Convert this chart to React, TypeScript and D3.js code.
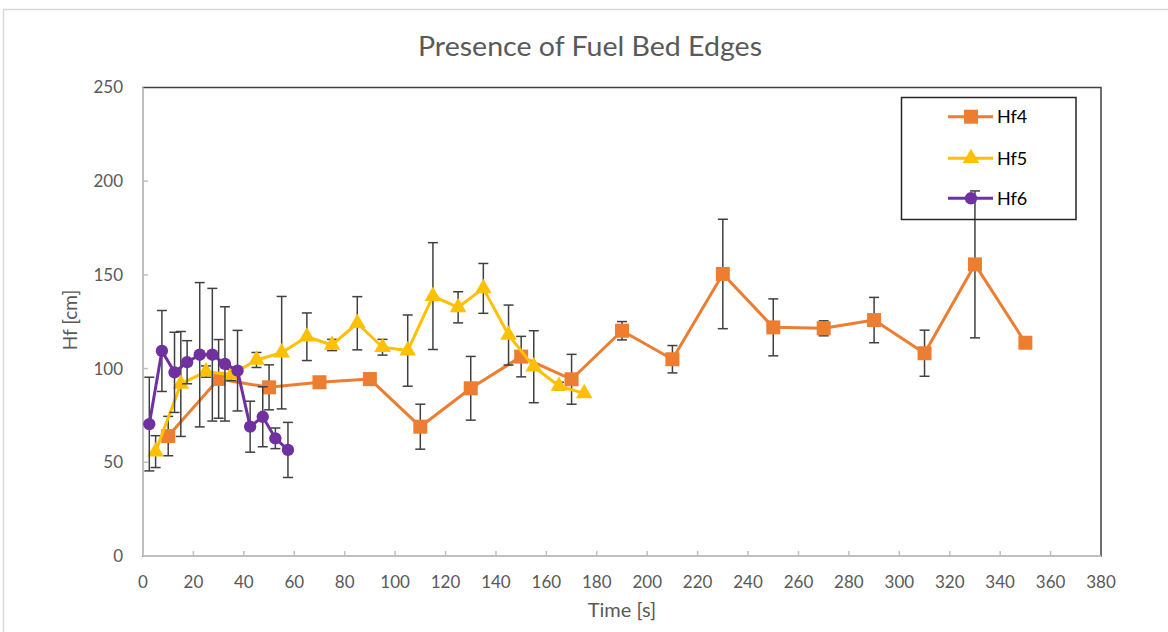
import React from "react";
import * as d3 from "d3";

// Hf4 – orange squares
const hf4Time = [10, 30, 50, 70, 90, 110, 130, 150, 170, 190, 210, 230, 250, 270, 290, 310, 330, 350];
const hf4Value = [64, 94.5, 90, 92.7, 94.4, 69, 89.5, 106.4, 94.3, 120.2, 105, 150.5, 122, 121.5, 125.9, 108.2, 155.6, 113.8];
const hf4Err = [10.5, 21, 12, 3, 3, 12, 17, 10.8, 13.3, 4.9, 7.3, 29.2, 15.2, 4, 12.1, 12.3, 39.2, 0];

// Hf5 – yellow triangles
const hf5Time = [5, 15, 25, 35, 45, 55, 65, 75, 85, 95, 105, 115, 125, 135, 145, 155, 165, 175];
const hf5Value = [55.7, 91.8, 98.4, 96.6, 104.6, 108.5, 117, 112.6, 124.2, 111.4, 109.6, 138.7, 132.7, 142.8, 117.9, 101, 90.7, 86.8];
const hf5Err = [8.5, 28, 3, 3, 4, 30, 12.7, 3, 14.2, 4.2, 19, 28.5, 8.3, 13.3, 16, 19.2, 2, 0];

// Hf6 – purple circles
const hf6Time = [2.5, 7.5, 12.5, 17.5, 22.5, 27.5, 32.5, 37.5, 42.5, 47.5, 52.5, 57.5];
const hf6Value = [70.4, 109.4, 98, 103.4, 107.4, 107.4, 102.5, 98.9, 69, 74.3, 62.8, 56.6];
const hf6Err = [25, 21.6, 21.4, 11.5, 38.5, 35.4, 30.5, 21.5, 13.6, 16, 5.5, 14.7];

const xTicks = d3.range(0, 381, 20);
const yTicks = [0, 50, 100, 150, 200, 250];

const FONT = "Lato, 'Open Sans', sans-serif";
const TEXT = "#595959";
const AXIS = "#bfbfbf";

type Shape = "square" | "triangle" | "circle";

const seriesList = [
  { name: "Hf4", color: "#ED7D31", shape: "square" as Shape, t: hf4Time, v: hf4Value, e: hf4Err },
  { name: "Hf5", color: "#FFC000", shape: "triangle" as Shape, t: hf5Time, v: hf5Value, e: hf5Err },
  { name: "Hf6", color: "#7030A0", shape: "circle" as Shape, t: hf6Time, v: hf6Value, e: hf6Err },
];

const symbolPath = (shape: Shape) => {
  if (shape === "square") return d3.symbol(d3.symbolSquare, 196)();
  if (shape === "triangle") return d3.symbol(d3.symbolTriangle, 120)();
  return d3.symbol(d3.symbolCircle, 120)();
};

export default function App() {
  const W = 1168;
  const H = 632;
  const left = 143;
  const right = 1101;
  const top = 87.5;
  const bottom = 556;

  const x = d3.scaleLinear().domain([0, 380]).range([left, right]);
  const y = d3.scaleLinear().domain([0, 250]).range([bottom, top]);

  const line = d3
    .line<[number, number]>()
    .x((d) => x(d[0]))
    .y((d) => y(d[1]));

  const legendY = [116.7, 158.3, 198.3];

  return (
    <svg
      width={W}
      height={H}
      style={{ position: "absolute", left: 0, top: 0, background: "#fff" }}
      fontFamily={FONT}
    >
      <rect x={0} y={0} width={W} height={H} fill="#fff" />
      {/* chart area outline */}
      <rect x={3.5} y={9.5} width={W + 20} height={H + 20} fill="none" stroke="#d9d9d9" strokeWidth={1.5} />

      <text x={590} y={56} textAnchor="middle" fontSize={27} fill={TEXT} textLength={344} lengthAdjust="spacingAndGlyphs">
        Presence of Fuel Bed Edges
      </text>

      {/* plot frame */}
      <rect x={left} y={top} width={right - left} height={bottom - top} fill="none" stroke="#404040" strokeWidth={1.5} />

      {/* axes */}
      <line x1={left} x2={left} y1={top} y2={bottom} stroke={AXIS} strokeWidth={2} />
      <line x1={left} x2={right} y1={bottom} y2={bottom} stroke={AXIS} strokeWidth={2} />
      {yTicks.map((t) => (
        <g key={"y" + t}>
          {t > 0 && t < 250 && (
            <line x1={left} x2={left + 5} y1={y(t)} y2={y(t)} stroke={AXIS} strokeWidth={1.5} />
          )}
          <text x={123} y={y(t)} dy="0.35em" textAnchor="end" fontSize={17} fill={TEXT}>
            {t}
          </text>
        </g>
      ))}
      {xTicks.map((t) => (
        <g key={"x" + t}>
          {t > 0 && t < 380 && (
            <line x1={x(t)} x2={x(t)} y1={bottom} y2={bottom - 5} stroke={AXIS} strokeWidth={1.5} />
          )}
          <text x={x(t)} y={582} dy="0.35em" textAnchor="middle" fontSize={17} fill={TEXT}>
            {t}
          </text>
        </g>
      ))}

      <text
        transform={`translate(77,320) rotate(-90)`}
        textAnchor="middle"
        fontSize={19}
        fill={TEXT}
      >
        Hf [cm]
      </text>
      <text x={622} y={610} dy="0.35em" textAnchor="middle" fontSize={20} fill={TEXT}>
        Time [s]
      </text>

      {/* series */}
      {seriesList.map((s) => {
        const pts: [number, number][] = s.t.map((t, i) => [t, s.v[i]]);
        return (
          <g key={s.name}>
            {s.t.map((t, i) =>
              s.e[i] > 0 ? (
                <g key={"e" + i} stroke="#404040" strokeWidth={1.5}>
                  <line x1={x(t)} x2={x(t)} y1={y(s.v[i] + s.e[i])} y2={y(s.v[i] - s.e[i])} />
                  <line x1={x(t) - 5} x2={x(t) + 5} y1={y(s.v[i] + s.e[i])} y2={y(s.v[i] + s.e[i])} />
                  <line x1={x(t) - 5} x2={x(t) + 5} y1={y(s.v[i] - s.e[i])} y2={y(s.v[i] - s.e[i])} />
                </g>
              ) : null
            )}
            <path d={line(pts) || ""} fill="none" stroke={s.color} strokeWidth={3} strokeLinejoin="round" />
            {pts.map((p, i) => (
              <path
                key={"m" + i}
                d={symbolPath(s.shape) || ""}
                transform={`translate(${x(p[0])},${y(p[1])})`}
                fill={s.color}
              />
            ))}
          </g>
        );
      })}

      {/* legend */}
      <rect x={901.5} y={97.5} width={174.5} height={122} fill="none" stroke="#262626" strokeWidth={1.5} />
      {seriesList.map((s, i) => (
        <g key={"lg" + s.name}>
          <line x1={948} x2={993} y1={legendY[i]} y2={legendY[i]} stroke={s.color} strokeWidth={3} />
          <path d={symbolPath(s.shape) || ""} transform={`translate(971,${legendY[i]})`} fill={s.color} />
          <text x={997} y={legendY[i]} dy="0.35em" fontSize={18} fill="#000">
            {s.name}
          </text>
        </g>
      ))}
    </svg>
  );
}
